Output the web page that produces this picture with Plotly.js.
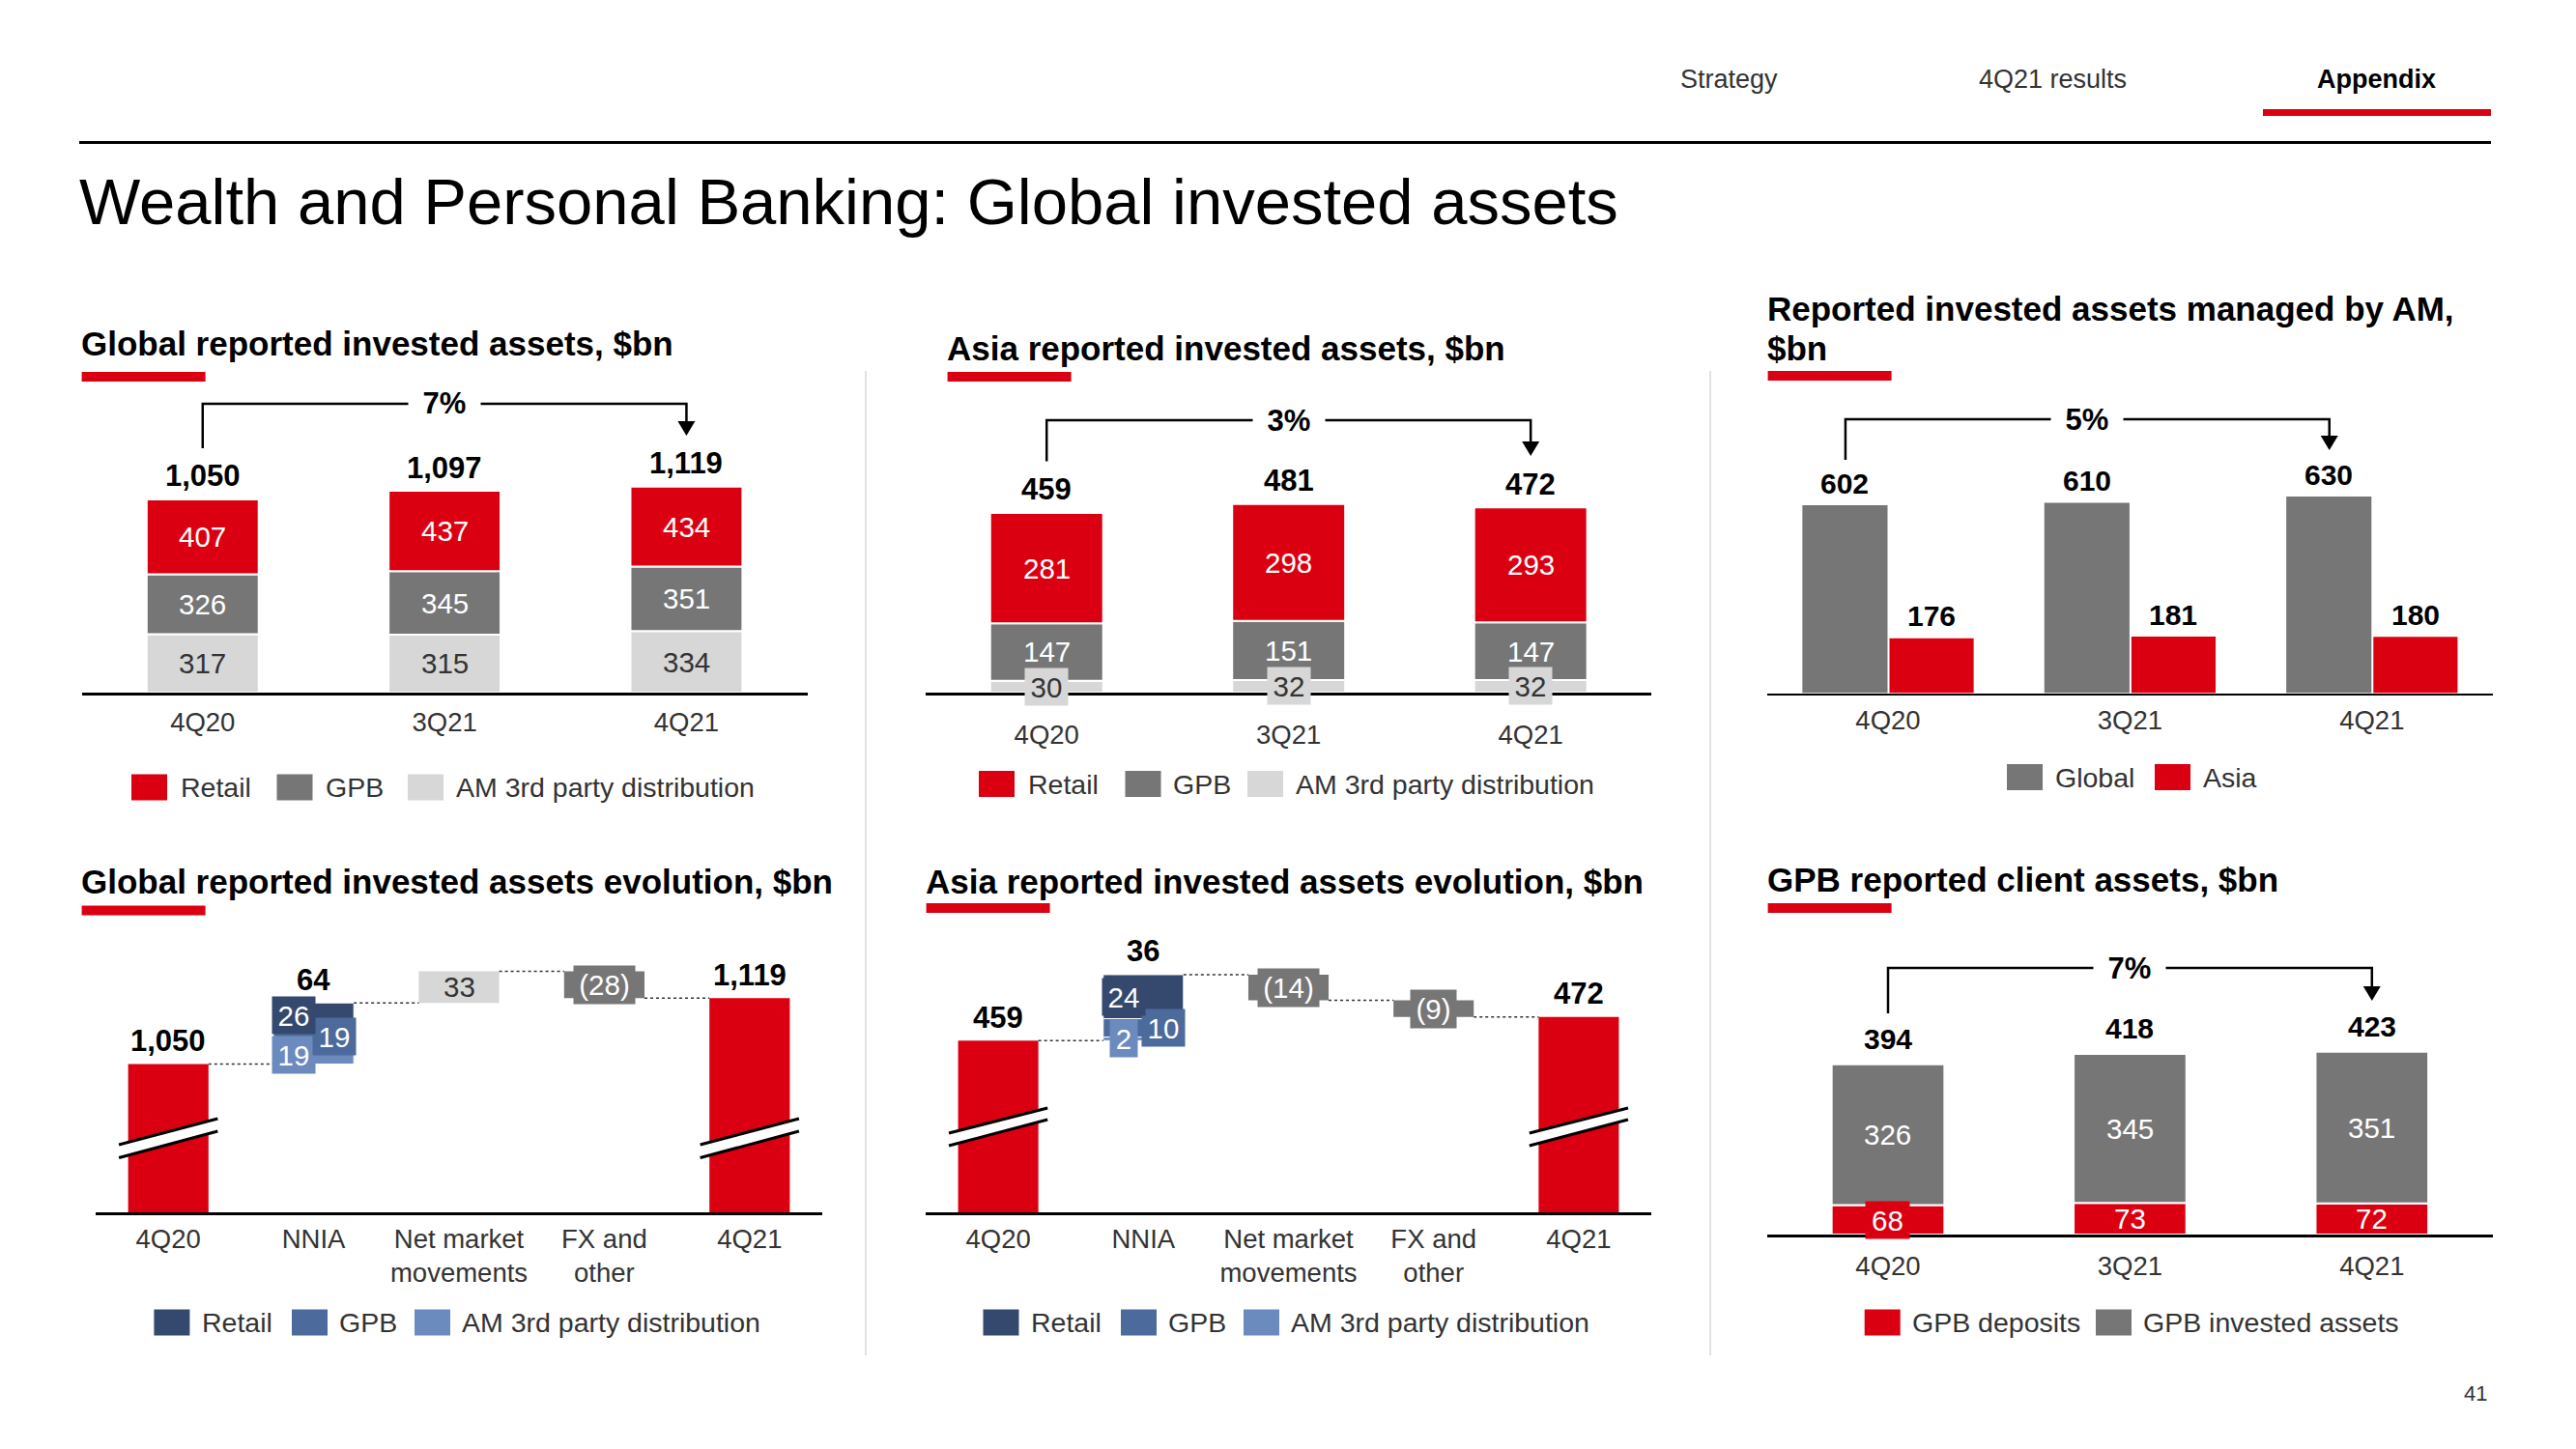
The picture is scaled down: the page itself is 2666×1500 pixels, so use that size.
<!DOCTYPE html>
<html><head><meta charset="utf-8">
<script src="https://cdn.plot.ly/plotly-3.0.1.min.js"></script>
<style>html,body{margin:0;padding:0;background:#fff}#chart{width:2666px;height:1500px}</style>
</head><body><div id="chart"></div>
<script>
// ---------------- data ----------------
const quarters = ['4Q20', '3Q21', '4Q21'];
const segmentNames = ['Retail', 'GPB', 'AM 3rd party distribution'];

const globalRetail = [407, 437, 434];
const globalGPB = [326, 345, 351];
const globalAM = [317, 315, 334];
const globalTotal = [1050, 1097, 1119];
const globalGrowth = '7%';

const asiaRetail = [281, 298, 293];
const asiaGPB = [147, 151, 147];
const asiaAM = [30, 32, 32];
const asiaTotal = [459, 481, 472];
const asiaGrowth = '3%';

const amNames = ['Global', 'Asia'];
const amGlobal = [602, 610, 630];
const amAsia = [176, 181, 180];
const amGrowth = '5%';

const wfCategories = ['4Q20', 'NNIA', 'Net market<br>movements', 'FX and<br>other', '4Q21'];
const globalWfStart = 1050;
const globalWfNnia = [26, 19, 19];   // Retail, GPB, AM 3rd party distribution
const globalWfNniaTotal = 64;
const globalWfMarket = 33;
const globalWfFx = -28;
const globalWfEnd = 1119;

const asiaWfStart = 459;
const asiaWfNnia = [24, 10, 2];      // Retail, GPB, AM 3rd party distribution
const asiaWfNniaTotal = 36;
const asiaWfMarket = -14;
const asiaWfFx = -9;
const asiaWfEnd = 472;

const gpbNames = ['GPB deposits', 'GPB invested assets'];
const gpbDeposits = [68, 73, 72];
const gpbInvested = [326, 345, 351];
const gpbTotal = [394, 418, 423];
const gpbGrowth = '7%';

// ---------------- styling ----------------
const W = 2666, H = 1500;
const px = v => v / W, py = v => 1 - v / H;
const RED = '#DB0011', DGRAY = '#767676', LGRAY = '#D7D7D7';
const NAVY = '#35496E', MBLUE = '#4C6A9B', LBLUE = '#6B8BBF';
const FONT = '"Liberation Sans", Arial, sans-serif';
const TXT = '#333333';
const fmt = v => v < 0 ? '(' + Math.abs(v).toLocaleString('en-US') + ')' : v.toLocaleString('en-US');

const panels = [
  {k: '',  cats: quarters,     x0: 84.6,  x1: 835.6, xr: [-0.5, 2.5], top: 400, bot: 717,  v0: 0,     s: 0.1905, so: 4},
  {k: '2', cats: quarters,     x0: 958,   x1: 1709.4, xr: [-0.5, 2.5], top: 400, bot: 717,  v0: 0,     s: 0.406,  so: 17},
  {k: '3', cats: quarters,     x0: 1828.8, x1: 2580, xr: [-0.5, 2.5], top: 400, bot: 717.5, v0: 0,    s: 0.323,  so: 2},
  {k: '4', cats: wfCategories, x0: 99,    x1: 851,   xr: [-0.5, 4.5], top: 960, bot: 1255, v0: 895,   s: 0.99,   so: 1},
  {k: '5', cats: wfCategories, x0: 958,   x1: 1709,  xr: [-0.5, 4.5], top: 960, bot: 1255, v0: 365.5, s: 1.9,    so: 1},
  {k: '6', cats: quarters,     x0: 1828.8, x1: 2580, xr: [-0.5, 2.5], top: 960, bot: 1278, v0: 0,     s: 0.4475, so: 6}
];

const layout = {
  width: W, height: H, margin: {l: 0, r: 0, t: 0, b: 0},
  paper_bgcolor: '#fff', plot_bgcolor: 'rgba(0,0,0,0)',
  barmode: 'overlay', showlegend: false,
  font: {family: FONT, color: TXT},
  shapes: [], annotations: []
};
panels.forEach(p => {
  layout['xaxis' + p.k] = {
    domain: [px(p.x0), px(p.x1)], range: p.xr, anchor: 'y' + p.k,
    tickvals: p.cats.map((_, j) => j), ticktext: p.cats,
    showline: true, linecolor: '#000', linewidth: 2.5, ticks: '',
    showgrid: false, zeroline: false, fixedrange: true,
    tickfont: {size: 27.5, color: TXT, family: FONT}, ticklabelstandoff: p.so
  };
  layout['yaxis' + p.k] = {
    domain: [py(p.bot), py(p.top)], range: [p.v0, p.v0 + (p.bot - p.top) / p.s],
    anchor: 'x' + p.k, visible: false, fixedrange: true
  };
});

const traces = [];
const A = layout.annotations, S = layout.shapes;
function bar(k, x, y, base, color, width, extra) {
  const t = {type: 'bar', xaxis: 'x' + k, yaxis: 'y' + k, x, y, width,
    marker: {color, line: {color: '#fff', width: 2}}, hoverinfo: 'skip'};
  if (base) t.base = base;
  return Object.assign(t, extra || {});
}
function dAnn(k, x, y, text, o) {
  return Object.assign({xref: 'x' + k, yref: 'y' + k, x, y, text, showarrow: false,
    xanchor: 'center', yanchor: 'middle', font: {family: FONT, size: 29.5, color: '#fff'}}, o || {});
}
function pAnn(text, xp, yp, o) {
  return Object.assign({xref: 'paper', yref: 'paper', x: px(xp), y: py(yp), text, showarrow: false,
    xanchor: 'left', yanchor: 'middle', font: {family: FONT, size: 28.5, color: TXT}}, o || {});
}
const sumArr = (...arrs) => arrs[0].map((_, i) => arrs.reduce((s, a) => s + a[i], 0));
const idx = quarters.map((_, i) => i);

// ---------- stacked 3-segment charts (1 & 2) ----------
function stacked3(k, retail, gpb, am, total, w, amBox) {
  const bGPB = am, bRet = sumArr(am, gpb);
  traces.push(bar(k, idx, am, null, LGRAY, w));
  traces.push(bar(k, idx, gpb, bGPB, DGRAY, w));
  traces.push(bar(k, idx, retail, bRet, RED, w));
  idx.forEach(i => {
    const o = {font: {family: FONT, size: 29.5, color: TXT}};
    if (amBox) Object.assign(o, {bgcolor: LGRAY, width: 42, height: 36});
    A.push(dAnn(k, i, am[i] / 2, String(am[i]), o));
    A.push(dAnn(k, i, bGPB[i] + gpb[i] / 2, String(gpb[i])));
    A.push(dAnn(k, i, bRet[i] + retail[i] / 2, String(retail[i])));
    A.push(dAnn(k, i, total[i], '<b>' + fmt(total[i]) + '</b>', {yshift: 24, font: {family: FONT, size: 31, color: '#000'}}));
  });
}
stacked3('', globalRetail, globalGPB, globalAM, globalTotal, 0.463, false);
stacked3('2', asiaRetail, asiaGPB, asiaAM, asiaTotal, 0.467, true);

// ---------- chart 3: grouped ----------
traces.push(bar('3', idx, amGlobal, null, DGRAY, 0.352, {offset: -0.354, marker: {color: DGRAY, line: {width: 0}}}));
traces.push(bar('3', idx, amAsia, null, RED, 0.348, {offset: 0.006, marker: {color: RED, line: {width: 0}}}));
idx.forEach(i => {
  A.push(dAnn('3', i - 0.178, amGlobal[i], '<b>' + amGlobal[i] + '</b>', {yshift: 23, font: {family: FONT, size: 30, color: '#000'}}));
  A.push(dAnn('3', i + 0.18, amAsia[i], '<b>' + amAsia[i] + '</b>', {yshift: 23, font: {family: FONT, size: 30, color: '#000'}}));
});

// ---------- chart 6: GPB client assets ----------
traces.push(bar('6', idx, gpbDeposits, null, RED, 0.466));
traces.push(bar('6', idx, gpbInvested, gpbDeposits, DGRAY, 0.466));
idx.forEach(i => {
  const depPx = gpbDeposits[i] * panels[5].s;
  const o = depPx < 31 ? {bgcolor: RED, width: 43, height: 36} : {};
  A.push(dAnn('6', i, gpbDeposits[i] / 2, String(gpbDeposits[i]), o));
  A.push(dAnn('6', i, gpbDeposits[i] + gpbInvested[i] / 2, String(gpbInvested[i])));
  A.push(dAnn('6', i, gpbTotal[i], '<b>' + gpbTotal[i] + '</b>', {yshift: 26, font: {family: FONT, size: 30, color: '#000'}}));
});

// ---------- waterfalls (charts 4 & 5) ----------
function waterfall(k, start, nnia, nniaTotal, market, fx, end, breakY) {
  const w = 0.553;
  const noLine = {color: '#fff', width: 0};
  traces.push(bar(k, [0, 4], [start, end], null, RED, w, {marker: {color: RED, line: noLine}}));
  const [ret, gpb, am] = nnia;
  const bAM = start, bGPB = start + am, bRet = start + am + gpb;
  traces.push(bar(k, [1], [am], [bAM], LBLUE, w, {marker: {color: LBLUE, line: {color: '#fff', width: 1}}}));
  traces.push(bar(k, [1], [gpb], [bGPB], MBLUE, w, {marker: {color: MBLUE, line: {color: '#fff', width: 1}}}));
  traces.push(bar(k, [1], [ret], [bRet], NAVY, w, {marker: {color: NAVY, line: {color: '#fff', width: 1}}}));
  const lvl1 = start + nniaTotal, lvl2 = lvl1 + market, lvl3 = lvl2 + fx;
  const stepColor = v => v >= 0 ? LGRAY : DGRAY;
  traces.push(bar(k, [2], [market], [lvl1], stepColor(market), w, {marker: {color: stepColor(market), line: noLine}}));
  traces.push(bar(k, [3], [fx], [lvl2], stepColor(fx), w, {marker: {color: stepColor(fx), line: noLine}}));

  // totals
  const bold = {font: {family: FONT, size: 31, color: '#000'}};
  A.push(dAnn(k, 0, start, '<b>' + fmt(start) + '</b>', Object.assign({yshift: 24}, bold)));
  A.push(dAnn(k, 4, lvl3, '<b>' + fmt(end) + '</b>', Object.assign({yshift: 24}, bold)));
  A.push(dAnn(k, 1, lvl1, '<b>' + fmt(nniaTotal) + '</b>', Object.assign({yshift: 24}, bold)));
  // NNIA segment labels with boxes
  const box = (v) => ({width: Math.max(26, 21 * String(v).length), height: 36});
  A.push(dAnn(k, 1 - 0.137, bAM + am / 2, String(am), Object.assign({bgcolor: LBLUE}, box(am))));
  A.push(dAnn(k, 1 + 0.14, bGPB + gpb / 2, String(gpb), Object.assign({bgcolor: MBLUE}, box(gpb))));
  A.push(dAnn(k, 1 - 0.137, bRet + ret / 2, String(ret), Object.assign({bgcolor: NAVY}, box(ret))));
  // market / fx labels
  [[2, market, lvl1], [3, fx, lvl2]].forEach(([x, v, b]) => {
    const t = fmt(v);
    if (v >= 0) A.push(dAnn(k, x, b + v / 2, t, {font: {family: FONT, size: 29.5, color: TXT}}));
    else A.push(dAnn(k, x, b + v / 2, t, {bgcolor: DGRAY, width: 16 * t.length - 3, height: 37}));
  });
  // dashed connectors
  [[0, start], [1, lvl1], [2, lvl2], [3, lvl3]].forEach(([x, lv]) => {
    S.push({type: 'line', xref: 'x' + k, yref: 'y' + k, x0: x + w / 2, x1: x + 1 - w / 2, y0: lv, y1: lv,
      line: {color: '#333', width: 1.5, dash: '3px,3px'}});
  });
  // axis break marks on the first and last bars
  [0, 4].forEach(x => {
    const xl = x - 0.34, xr = x + 0.34;
    const [tL, tR, lL, lR] = breakY.map(py);
    S.push({type: 'path', xref: 'x' + k, yref: 'paper', path: `M ${xl},${tL} L ${xr},${tR} L ${xr},${lR} L ${xl},${lL} Z`,
      fillcolor: '#fff', line: {width: 0}});
    S.push({type: 'line', xref: 'x' + k, yref: 'paper', x0: xl, y0: tL, x1: xr, y1: tR, line: {color: '#000', width: 3}});
    S.push({type: 'line', xref: 'x' + k, yref: 'paper', x0: xl, y0: lL, x1: xr, y1: lR, line: {color: '#000', width: 3}});
  });
}
waterfall('4', globalWfStart, globalWfNnia, globalWfNniaTotal, globalWfMarket, globalWfFx, globalWfEnd, [1185, 1158, 1198.5, 1171]);
waterfall('5', asiaWfStart, asiaWfNnia, asiaWfNniaTotal, asiaWfMarket, asiaWfFx, asiaWfEnd, [1173, 1147, 1186, 1159]);

// ---------- growth brackets ----------
function bracket(k, xL, xR, lineY, leftBottom, tip, text) {
  const hw = 9 / 250.3;
  S.push({type: 'path', xref: 'x' + k, yref: 'paper',
    path: `M ${xL},${py(leftBottom)} L ${xL},${py(lineY)} L ${xR},${py(lineY)} L ${xR},${py(tip - 14)}`,
    line: {color: '#000', width: 2.5}});
  S.push({type: 'path', xref: 'x' + k, yref: 'paper',
    path: `M ${xR - hw},${py(tip - 15)} L ${xR + hw},${py(tip - 15)} L ${xR},${py(tip)} Z`,
    fillcolor: '#000', line: {width: 0}});
  A.push({xref: 'x' + k, yref: 'paper', x: (xL + xR) / 2, y: py(lineY), text: '<b>' + text + '</b>', showarrow: false,
    xanchor: 'center', yanchor: 'middle', bgcolor: '#fff', width: 72, font: {family: FONT, size: 31, color: '#000'}});
}
bracket('', 0, 2, 418, 464, 451, globalGrowth);
bracket('2', 0, 2, 435, 477.5, 472, asiaGrowth);
bracket('3', -0.176, 1.824, 434, 476, 466, amGrowth);
bracket('6', 0, 2, 1002, 1049, 1036, gpbGrowth);

// ---------- page furniture ----------
A.push(pAnn('Strategy', 1789, 82, {xanchor: 'center', font: {family: FONT, size: 27, color: TXT}}));
A.push(pAnn('4Q21 results', 2124, 82, {xanchor: 'center', font: {family: FONT, size: 27, color: TXT}}));
A.push(pAnn('<b>Appendix</b>', 2459, 82, {xanchor: 'center', font: {family: FONT, size: 27, color: '#000'}}));
S.push({type: 'rect', xref: 'paper', yref: 'paper', x0: px(2342), x1: px(2578), y0: py(113), y1: py(120), fillcolor: RED, line: {width: 0}});
S.push({type: 'line', xref: 'paper', yref: 'paper', x0: px(82), x1: px(2578), y0: py(147.5), y1: py(147.5), line: {color: '#000', width: 3}});
A.push(pAnn('Wealth and Personal Banking: Global invested assets', 80, 209, {font: {family: FONT, size: 67, color: '#000'}}));
A.push(pAnn('41', 2562, 1442, {xanchor: 'center', font: {family: FONT, size: 22, color: TXT}}));
[896, 1770].forEach(x => S.push({type: 'line', xref: 'paper', yref: 'paper', x0: px(x), x1: px(x), y0: py(384), y1: py(1403),
  line: {color: '#D9D9D9', width: 1.5}}));

// chart titles + red underlines
const titleFont = {family: FONT, size: 35, color: '#000'};
[
  ['Global reported invested assets, $bn', 84, 355, 385],
  ['Asia reported invested assets, $bn', 980, 360, 385],
  ['Reported invested assets managed by AM,', 1829, 319, 384],
  ['$bn', 1829, 360, null],
  ['Global reported invested assets evolution, $bn', 84, 912, 937.5],
  ['Asia reported invested assets evolution, $bn', 958, 912, 935],
  ['GPB reported client assets, $bn', 1829, 911, 935]
].forEach(([t, x, y, u]) => {
  A.push(pAnn('<b>' + t + '</b>', x - 2, y, {font: titleFont}));
  if (u !== null) S.push({type: 'rect', xref: 'paper', yref: 'paper', x0: px(x + 0.6), x1: px(x + 128.6),
    y0: py(u), y1: py(u + 10), fillcolor: RED, line: {width: 0}});
});

// legends
const legends = [
  [815,   [[RED, segmentNames[0], 136, 187], [DGRAY, segmentNames[1], 286.5, 337], [LGRAY, segmentNames[2], 422, 471.6]]],
  [811.5, [[RED, segmentNames[0], 1013, 1064], [DGRAY, segmentNames[1], 1164.5, 1214], [LGRAY, segmentNames[2], 1291, 1340.5]]],
  [804.5, [[DGRAY, amNames[0], 2077, 2127], [RED, amNames[1], 2230, 2280]]],
  [1369,  [[NAVY, segmentNames[0], 159.4, 209], [MBLUE, segmentNames[1], 302, 351], [LBLUE, segmentNames[2], 429, 478.4]]],
  [1369,  [[NAVY, segmentNames[0], 1017.5, 1066.5], [MBLUE, segmentNames[1], 1160, 1209], [LBLUE, segmentNames[2], 1287, 1336.4]]],
  [1369,  [[RED, gpbNames[0], 1929.7, 1979], [DGRAY, gpbNames[1], 2169, 2218]]]
];
legends.forEach(([y, items]) => items.forEach(([c, t, bx, tx]) => {
  S.push({type: 'rect', xref: 'paper', yref: 'paper', x0: px(bx), x1: px(bx + 37), y0: py(y + 13.5), y1: py(y - 13.5),
    fillcolor: c, line: {width: 0}});
  A.push(pAnn(t, tx - 2, y));
}));

Plotly.newPlot('chart', traces, layout, {displayModeBar: false, staticPlot: true});
</script></body></html>
